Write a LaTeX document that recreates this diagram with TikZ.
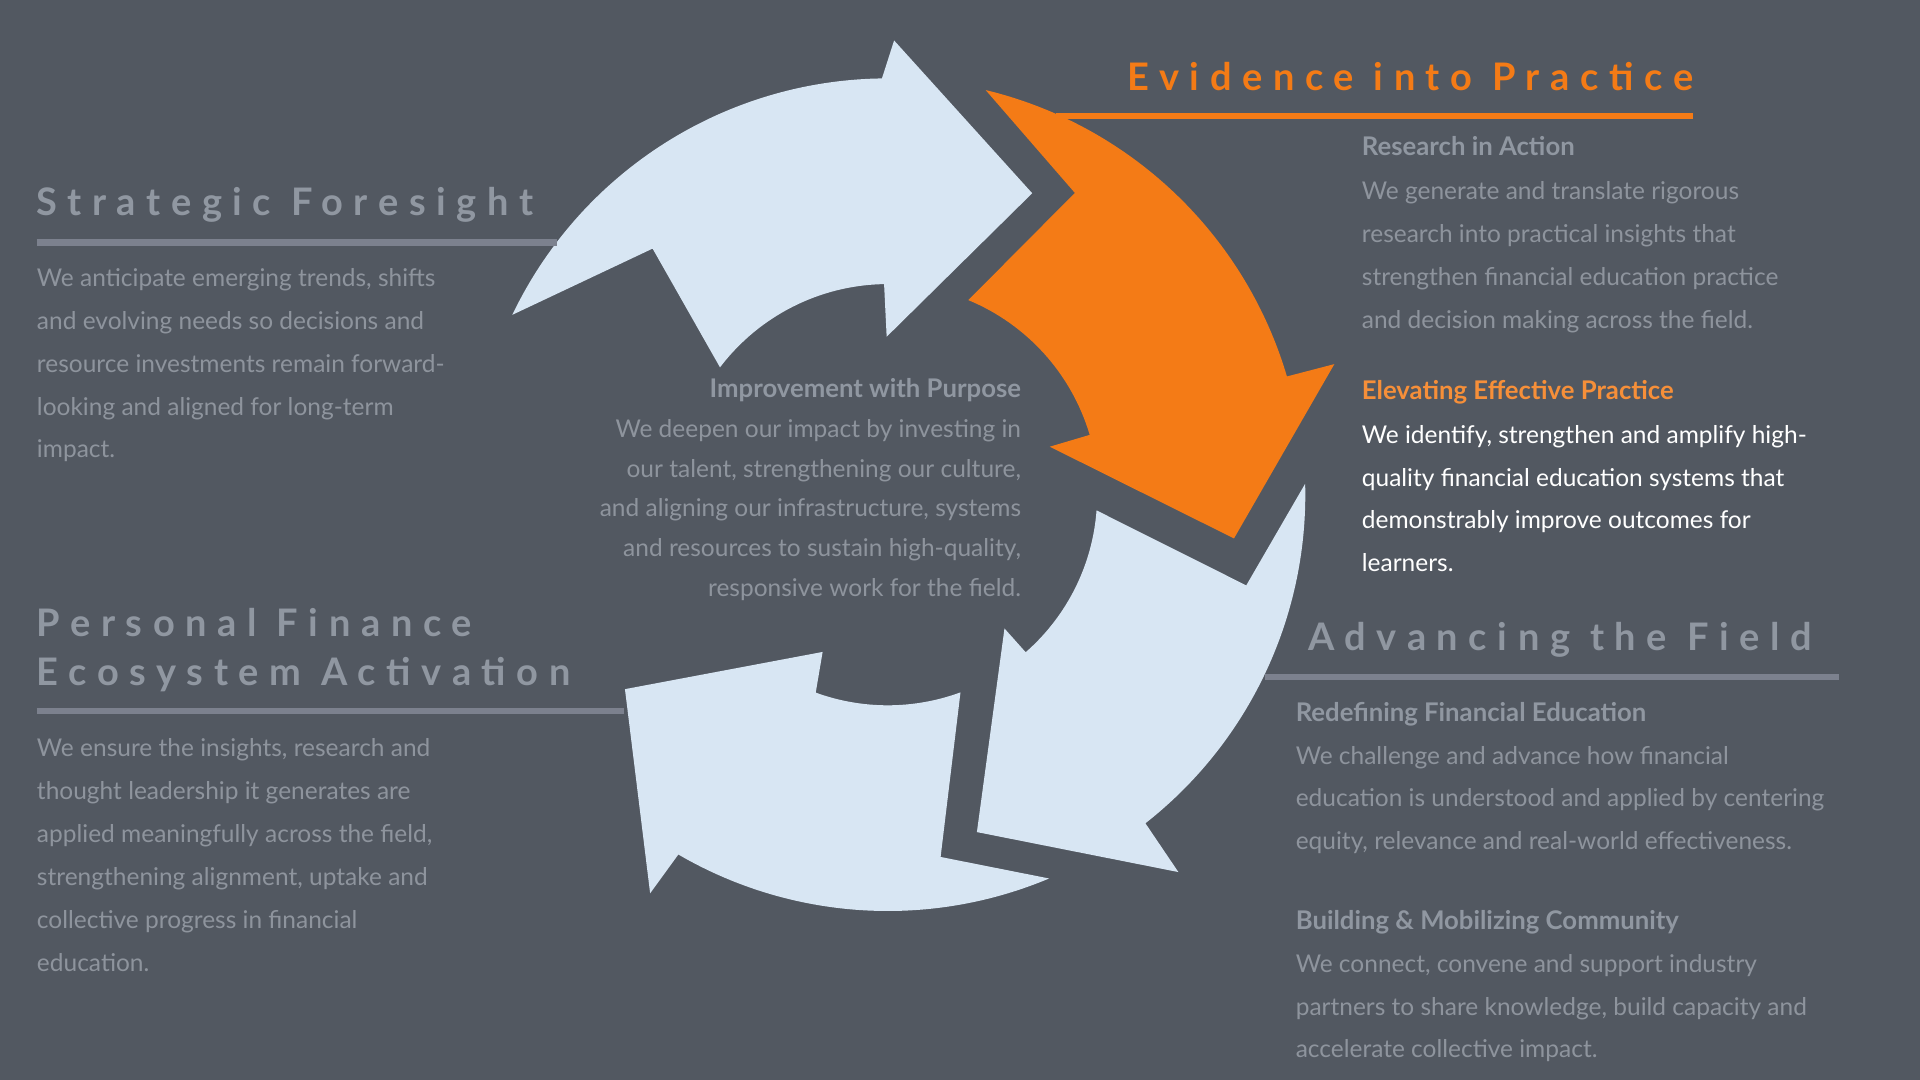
\documentclass[tikz,border=0pt]{standalone}
\usepackage{fontspec}
\setmainfont{Lato}
\newfontfamily\headfont[LetterSpace=28]{Lato}
\definecolor{bg}{HTML}{525861}
\definecolor{lb}{HTML}{D8E6F3}
\definecolor{org}{HTML}{F47B16}
\definecolor{gt}{HTML}{8E949D}
\definecolor{gh}{HTML}{9097A1}
\definecolor{gl}{HTML}{7C818E}
\begin{document}
\begin{tikzpicture}[x=1pt,y=-1pt,
  body/.style={anchor=base west,inner sep=0,font=\fontsize{20}{24}\selectfont,text=gt},
  bodyr/.style={body,anchor=base east},
  sub/.style={anchor=base west,inner sep=0,font=\fontsize{21}{24}\selectfont\bfseries,text=gh},
  head/.style={anchor=base west,inner sep=0,font=\fontsize{31}{36}\selectfont\headfont\bfseries,text=gh},
  rule/.style={line width=5pt,draw=gl}]
\fill[bg] (0,0) rectangle (1568,882);
\useasboundingbox (0,0) rectangle (1568,882);
\begin{scope}[shift={(725,404)}]
\fill[lb] (205.6:340) arc[start angle=205.6,end angle=269.2,radius=340] -- (270.8:371) -- (295.6:273) -- (269.6:129) -- (269:172) arc[start angle=269,end angle=217.2,radius=172] -- (226.3:278) -- cycle;
\fill[org] (283.6:340) arc[start angle=283.6,end angle=343.5,radius=340] -- (343.7:380) -- (7.2:285) -- (343.5:138) -- (343.5:172) arc[start angle=343.5,end angle=292.5,radius=172] -- (301.8:290) -- cycle;
\fill[lb] (358.5:341) arc[start angle=358.5,end angle=411.9,radius=341] -- (52.4:389) -- (75.2:285) -- (48.9:145) -- (48.8:171) arc[start angle=48.8,end angle=4.3,radius=171] -- (14.2:302) -- cycle;
\fill[lb] (67.2:340) arc[start angle=67.2,end angle=120.2,radius=340] -- (120.8:379) -- (143.5:267) -- (112.5:139) -- (110:172) arc[start angle=110,end angle=69.8,radius=172] -- (81.7:299) -- cycle;
\end{scope}
% Evidence into Practice
\node[head,text=org,anchor=base east] (h1) at (1383,74) {Evidence into Practice};
\draw[line width=5pt,org] (862,95) -- (1383,95);
\node[sub] (s1) at (1112,127) {Research in Action};
\foreach \t [count=\i] in {We generate and translate rigorous,research into practical insights that,strengthen financial education practice,and decision making across the field.}
  \node[body] (r\i) at (1112,163+35*\i-35) {\t};
\node[sub,text=org!85!white] (s2) at (1112,326) {Elevating Effective Practice};
\foreach \t [count=\i] in {We identify{,} strengthen and amplify high-,quality financial education systems that,demonstrably improve outcomes for,learners.}
  \node[body,text=white] (e\i) at (1112,362+35*\i-35) {\t};
% Advancing
\node[head] (h2) at (1068,531) {Advancing the Field};
\draw[rule] (1033,553) -- (1502,553);
\node[sub] (s3) at (1058,589) {Redefining Financial Education};
\foreach \t [count=\i] in {We challenge and advance how financial,education is understood and applied by centering,equity{,} relevance and real-world effectiveness.}
  \node[body] (a\i) at (1058,624+35*\i-35) {\t};
\node[sub] (s4) at (1058,759) {Building \& Mobilizing Community};
\foreach \t [count=\i] in {We connect{,} convene and support industry,partners to share knowledge{,} build capacity and,accelerate collective impact.}
  \node[body] (b\i) at (1058,794+35*\i-35) {\t};
% Strategic
\node[head] (h3) at (30,176) {Strategic Foresight};
\draw[rule] (30,198) -- (455,198);
\foreach \t [count=\i] in {We anticipate emerging trends{,} shifts,and evolving needs so decisions and,resource investments remain forward-,looking and aligned for long-term,impact.}
  \node[body] (f\i) at (30,234+35*\i-35) {\t};
% Personal finance
\node[head] (h4) at (30,520) {Personal Finance};
\node[head] (h5) at (30,560) {Ecosystem Activation};
\draw[rule] (30,581) -- (510,581);
\foreach \t [count=\i] in {We ensure the insights{,} research and,thought leadership it generates are,applied meaningfully across the field{,},strengthening alignment{,} uptake and,collective progress in financial,education.}
  \node[body] (p\i) at (30,618+35*\i-35) {\t};
% Center
\node[sub,anchor=base east] (s5) at (834,325) {Improvement with Purpose};
\foreach \t [count=\i] in {We deepen our impact by investing in,our talent{,} strengthening our culture{,},and aligning our infrastructure{,} systems,and resources to sustain high-quality{,},responsive work for the field.}
  \node[bodyr] (c\i) at (834,357+32.6*\i-32.6) {\t};
\end{tikzpicture}
\end{document}
